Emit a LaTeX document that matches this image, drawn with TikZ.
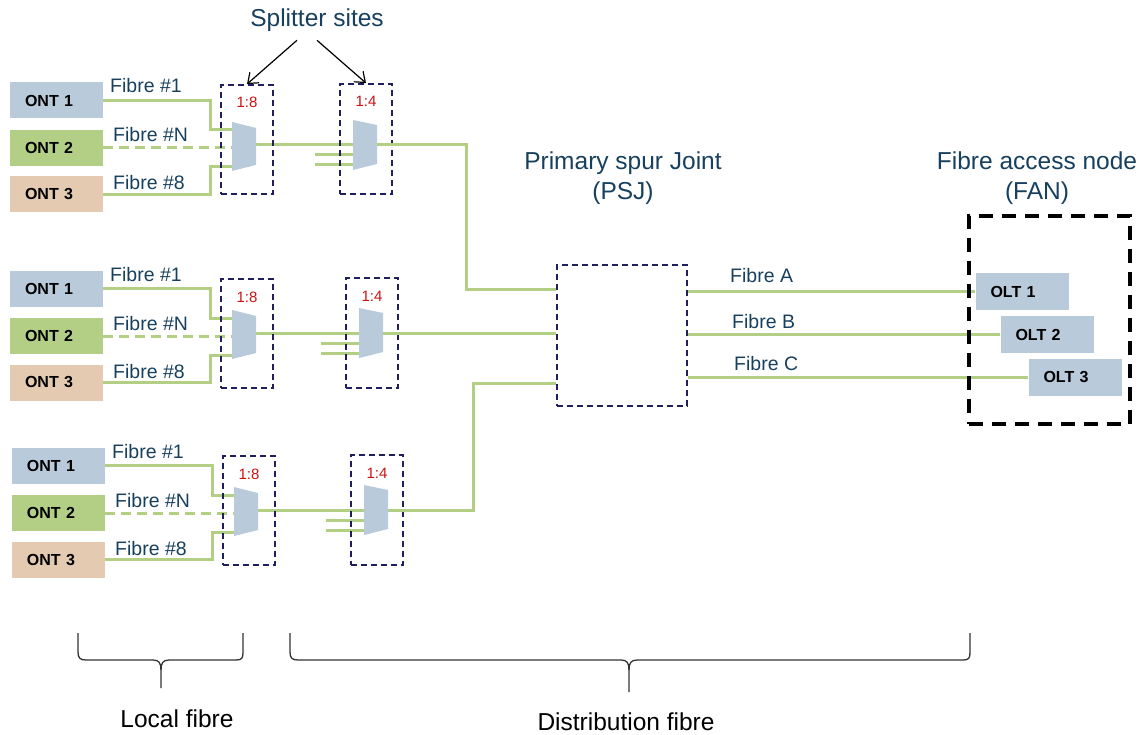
\documentclass[tikz,border=0pt]{standalone}
\usepackage{fontspec}
\setmainfont{Liberation Sans}
\usetikzlibrary{arrows.meta,calc}
\definecolor{ontA}{HTML}{B9CBDA}
\definecolor{ontB}{HTML}{B3CF85}
\definecolor{ontC}{HTML}{E3CAB0}
\definecolor{fgreen}{HTML}{B3CF84}
\definecolor{navy}{HTML}{1F1F5F}
\definecolor{tblue}{HTML}{17405E}
\definecolor{rred}{HTML}{CC1111}
\tikzset{
 fib/.style={draw=fgreen,line width=3pt},
 fibdash/.style={fib,dash pattern=on 10pt off 6pt},
 site/.style={draw=navy,line width=1.8pt,dash pattern=on 6pt off 4pt,inner sep=0pt},
 box/.style={inner xsep=15pt,inner ysep=0pt,minimum height=36pt,minimum width=93pt,text width=63pt,align=left,font=\fontsize{16}{18}\selectfont\bfseries},
 split/.style={fill=ontA},
 lbl/.style={inner sep=0pt,text=tblue,font=\fontsize{19.5}{22}\selectfont},
 ratio/.style={inner sep=0pt,text=rred,font=\fontsize{15}{17}\selectfont},
 head/.style={inner sep=0pt,text=tblue,align=center,font=\fontsize{24.5}{30}\selectfont},
 foot/.style={inner sep=0pt,text=black,font=\fontsize{24.5}{30}\selectfont},
 arr/.style={draw=black,line width=1.2pt,-{Straight Barb[length=9pt,width=14pt]}},
 brace/.style={draw=black!80,line width=1.3pt},
 fanbox/.style={draw=black,line width=4pt,dash pattern=on 14pt off 9pt,inner sep=0pt},
}
\newcommand\fgroup[5]{%
\begin{scope}[shift={(#2,#3)}]
 \node[box,fill=ontA] (#1-ont1) at (56.5,100.5) {ONT 1};
 \node[box,fill=ontB] (#1-ont2) at (56.5,148) {ONT 2};
 \node[box,fill=ontC] (#1-ont3) at (56.5,194.5) {ONT 3};
 \coordinate (#1-k1) at (210,130);
 \coordinate (#1-i1) at (232,130);
 \coordinate (#1-i2) at (232,148);
 \coordinate (#1-k3) at (210,167);
 \coordinate (#1-i3) at (232,167);
 \coordinate (#1-o8) at (256,145);
 \draw[fib] (#1-ont1.east) -| (#1-k1) -- (#1-i1);
 \draw[fibdash] (#1-ont2.east) -- (#1-i2);
 \draw[fib] (#1-ont3.east) -| (#1-k3) -- (#1-i3);
 \node[lbl,anchor=base west] (#1-f1) at (110,93) {Fibre \#1};
 \node[lbl,anchor=base west] (#1-fn) at (113,142) {Fibre \#N};
 \node[lbl,anchor=base west] (#1-f8) at (113,190) {Fibre \#8};
 \begin{scope}[shift={(#4,0)}]
  \coordinate (#1-o4) at (377,145);
  \coordinate (#1-a) at (315,155);
  \coordinate (#1-b) at (353,155);
  \coordinate (#1-c) at (315,165);
  \coordinate (#1-d) at (353,165);
 \end{scope}
 \draw[fib] (#1-o8) -- (#1-o4);
 \draw[fib] (#1-a) -- (#1-b);
 \draw[fib] (#1-c) -- (#1-d);
 \fill[split] (232,122) -- (256,128) -- (256,165) -- (232,171) -- cycle;
 \node[site,minimum width=52pt,minimum height=109pt] (#1-s8) at (247,139.5+#5) {};
 \node[ratio,anchor=base] (#1-r8) at (247,108+#5) {1:8};
 \begin{scope}[shift={(#4,0)}]
  \fill[split] (353,120) -- (377,125) -- (377,164) -- (353,170) -- cycle;
  \node[site,minimum width=52pt,minimum height=110pt] (#1-s4) at (366,139+#5) {};
  \node[ratio,anchor=base] (#1-r4) at (366,107+#5) {1:4};
 \end{scope}
\end{scope}}
\begin{document}
\begin{tikzpicture}[x=1pt,y=-1pt]
\useasboundingbox (0,0) rectangle (1145,735);
\fgroup{g1}{0}{0}{0}{0}
\fgroup{g2}{0}{188}{6}{6}
\fgroup{g3}{2}{365}{9}{6}
% PSJ
\node[site,minimum width=130pt,minimum height=141pt] (psj) at (622,335.5) {};
\draw[fib] (g1-o4) -- ++(89,0) |- ([yshift=46.5pt]psj.west);
\draw[fib] (g2-o4) -- (psj.west |- g2-o4);
\draw[fib] (g3-o4) -- ++(85,0) |- ([yshift=-47.5pt]psj.west);
% OLTs
\node[box,fill=ontA,minimum height=37pt] (olt1) at (1022,291.5) {OLT 1};
\node[box,fill=ontA,minimum height=37pt] (olt2) at (1047,334.5) {OLT 2};
\node[box,fill=ontA,minimum height=37pt] (olt3) at (1075,377.5) {OLT 3};
\draw[fib] (psj.east |- olt1.west) -- (olt1.west);
\draw[fib] (psj.east |- olt2.west) -- (olt2.west);
\draw[fib] (psj.east |- olt3.west) -- (olt3.west);
\node[lbl,anchor=base west] (fa) at (730,282) {Fibre A};
\node[lbl,anchor=base west] (fb) at (732,328) {Fibre B};
\node[lbl,anchor=base west] (fc) at (734,370) {Fibre C};
\node[fanbox,minimum width=161pt,minimum height=208pt] (fan) at (1049.5,320) {};
% headings
\node[head,anchor=base] (sites) at (317,27) {Splitter sites};
\node[head,anchor=base] (psjl) at (623,200) {Primary spur Joint\\(PSJ)};
\node[head,anchor=base] (fanl) at (1037,200) {Fibre access node\\(FAN)};
\draw[arr] ($(sites.south)+(-20,8)$) -- (g1-s8.north);
\draw[arr] ($(sites.south)+(0,8)$) -- (g1-s4.north);
% braces
\draw[brace] (78,633) -- (78,652) .. controls (78,658) and (80,660) .. (86,660) -- (153,660) .. controls (159,660) and (161,663) .. (161,670) -- (161,688);
\draw[brace] (161,670) .. controls (161,663) and (163,660) .. (169,660) -- (236,660) .. controls (242,660) and (243,658) .. (243,652) -- (243,633);
\draw[brace] (290,633) -- (290,652) .. controls (290,658) and (292,660) .. (298,660) -- (621,660) .. controls (627,660) and (629,663) .. (629,670) -- (629,692);
\draw[brace] (629,670) .. controls (629,663) and (631,660) .. (637,660) -- (963,660) .. controls (969,660) and (970,658) .. (970,652) -- (970,633);
\node[foot,anchor=base] (lf) at (177,727) {Local fibre};
\node[foot,anchor=base] (df) at (626,730) {Distribution fibre};
\end{tikzpicture}
\end{document}
